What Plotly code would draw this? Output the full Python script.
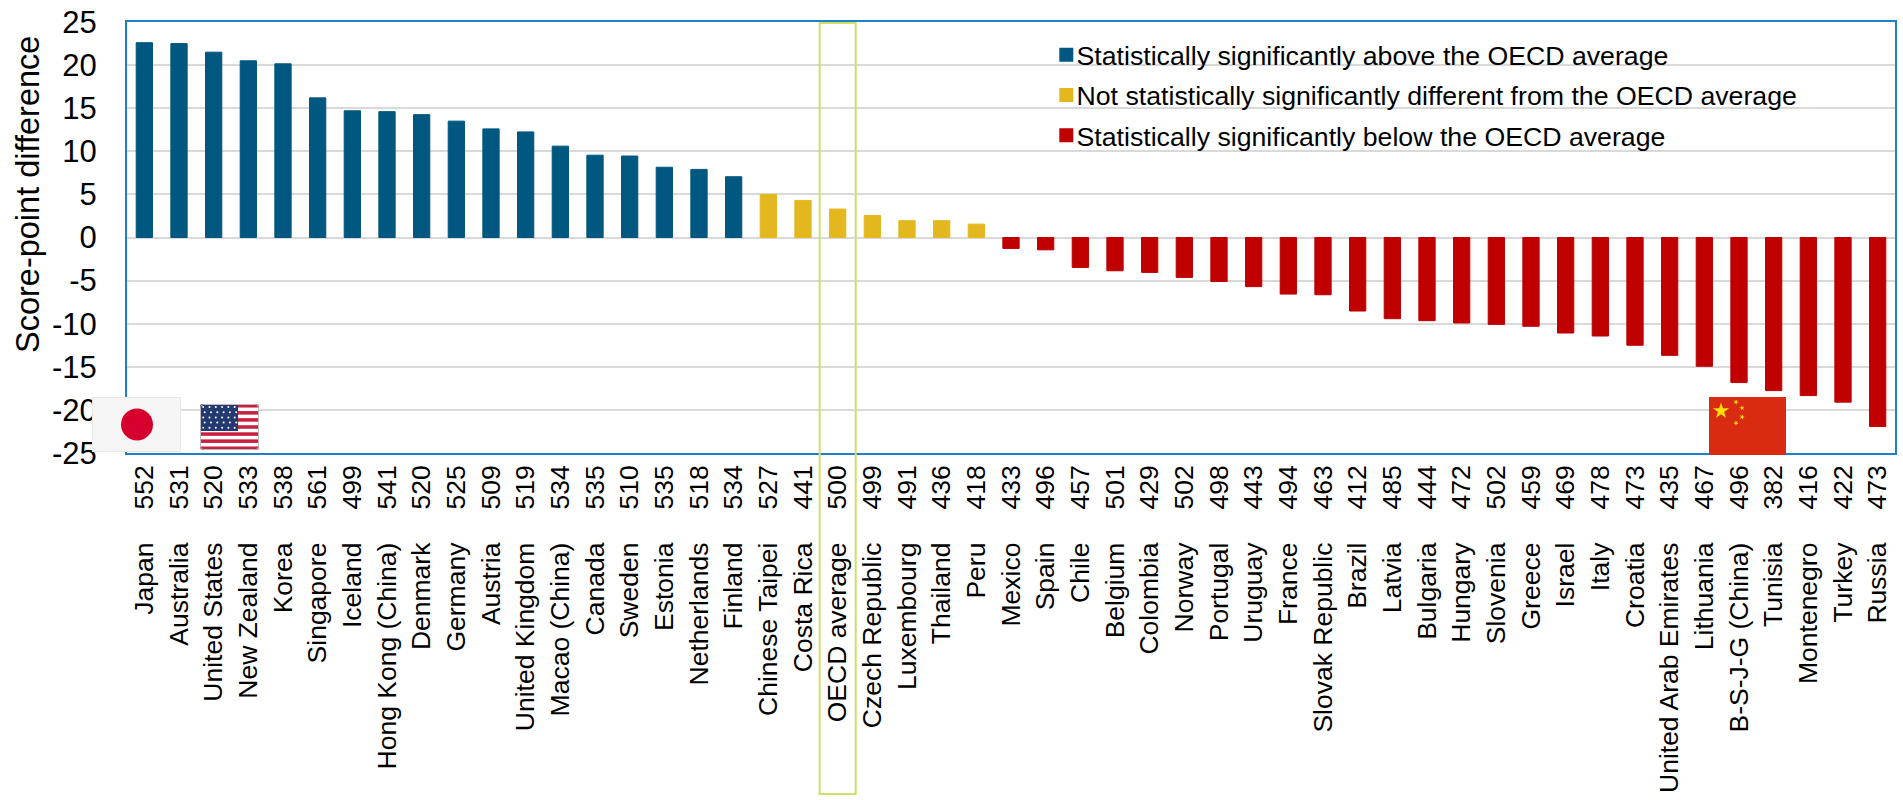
import base64
import math
import plotly.graph_objects as go

countries_above = ["Japan", "Australia", "United States", "New Zealand", "Korea", "Singapore", "Iceland",
                   "Hong Kong (China)", "Denmark", "Germany", "Austria", "United Kingdom", "Macao (China)",
                   "Canada", "Sweden", "Estonia", "Netherlands", "Finland"]
values_above = [22.6, 22.5, 21.5, 20.5, 20.15, 16.2, 14.7, 14.6, 14.25, 13.5, 12.6, 12.25, 10.6,
                9.55, 9.45, 8.15, 7.9, 7.05]
scores_above = [552, 531, 520, 533, 538, 561, 499, 541, 520, 525, 509, 519, 534, 535, 510, 535, 518, 534]

countries_same = ["Chinese Taipei", "Costa Rica", "OECD average", "Czech Republic", "Luxembourg", "Thailand", "Peru"]
values_same = [5.0, 4.3, 3.3, 2.55, 1.95, 1.95, 1.55]
scores_same = [527, 441, 500, 499, 491, 436, 418]

countries_below = ["Mexico", "Spain", "Chile", "Belgium", "Colombia", "Norway", "Portugal", "Uruguay", "France",
                   "Slovak Republic", "Brazil", "Latvia", "Bulgaria", "Hungary", "Slovenia", "Greece", "Israel",
                   "Italy", "Croatia", "United Arab Emirates", "Lithuania", "B-S-J-G (China)", "Tunisia",
                   "Montenegro", "Turkey", "Russia"]
values_below = [-1.27, -1.43, -3.47, -3.86, -4.05, -4.63, -5.1, -5.7, -6.56, -6.64, -8.53, -9.42, -9.65,
                -9.92, -10.08, -10.3, -11.08, -11.43, -12.5, -13.67, -14.94, -16.83, -17.76, -18.34, -19.1, -21.93]
scores_below = [433, 496, 457, 501, 429, 502, 498, 443, 494, 463, 412, 485, 444, 472, 502, 459, 469, 478, 473,
                435, 467, 496, 382, 416, 422, 473]

y_ticks = [25, 20, 15, 10, 5, 0, -5, -10, -15, -20, -25]
name_above = "Statistically significantly above the OECD average"
name_same = "Not statistically significantly different from the OECD average"
name_below = "Statistically significantly below the OECD average"
y_title = "Score-point difference"

all_countries = countries_above + countries_same + countries_below
all_scores = scores_above + scores_same + scores_below

W, H = 1903, 800
L, R, T, B = 127, 8, 22, 347
PW, PH = W - L - R, H - T - B
FONT = "Liberation Sans, Arial, sans-serif"
BLUE, YELLOW, RED = "#00577F", "#E3B81F", "#C00000"


def px(x):
    return (x - L) / PW


def py(y):
    return (H - B - y) / PH


def uri(svg):
    return "data:image/svg+xml;base64," + base64.b64encode(svg.encode()).decode()


def star(cx, cy, r, rot=-90):
    pts = []
    for i in range(10):
        rr = r if i % 2 == 0 else r * 0.382
        a = math.radians(rot + 36 * i)
        pts.append(f"{cx + rr * math.cos(a):.2f},{cy + rr * math.sin(a):.2f}")
    return f'<polygon points="{" ".join(pts)}" fill="#FFDE00"/>'


japan_svg = ('<svg xmlns="http://www.w3.org/2000/svg" width="89" height="55" viewBox="0 0 89 55">'
             '<rect x="0.5" y="0.5" width="88" height="54" fill="#F5F5F5" stroke="#E8E8E8"/>'
             '<circle cx="45" cy="27.5" r="16" fill="#D6002F"/></svg>')

us_parts = ['<svg xmlns="http://www.w3.org/2000/svg" width="59" height="46" viewBox="0 0 59 46">',
            '<clipPath id="c"><rect width="59" height="46" rx="3"/></clipPath><g clip-path="url(#c)">',
            '<rect width="59" height="46" fill="#FFFFFF"/>']
for i in range(0, 13, 2):
    us_parts.append(f'<rect y="{i * 46 / 13:.2f}" width="59" height="{46 / 13:.2f}" fill="#C8203F"/>')
us_parts.append('<rect width="38" height="27" fill="#24396F"/>')
for r_ in range(5):
    for c_ in range(6):
        us_parts.append(f'<circle cx="{3.2 + c_ * 6.3 + (r_ % 2) * 1.5:.1f}" cy="{3 + r_ * 5.2:.1f}" r="1" fill="#FFFFFF"/>')
us_parts.append('</g><rect x="0.5" y="0.5" width="58" height="45" rx="3" fill="none" stroke="#BBBBBB"/></svg>')
us_svg = "".join(us_parts)

china_svg = ('<svg xmlns="http://www.w3.org/2000/svg" width="77" height="58" viewBox="0 0 77 58">'
             '<rect width="77" height="58" fill="#D92A12"/>'
             + star(12, 14, 8.5) + star(27, 5, 2.8, -60) + star(33, 11, 2.8, -30)
             + star(33, 20, 2.8, 0) + star(27, 26, 2.8, 20) + '</svg>')

fig = go.Figure()
for name, xs, ys, color in [(name_above, countries_above, values_above, BLUE),
                            (name_same, countries_same, values_same, YELLOW),
                            (name_below, countries_below, values_below, RED)]:
    fig.add_trace(go.Bar(x=xs, y=ys, name=name, legendgroup=name, width=0.47,
                         marker=dict(color=color, line=dict(color=color, width=1)), hoverinfo="x+y"))

# invisible carrier so the second (score) label axis is drawn
fig.add_trace(go.Scatter(x=list(range(len(all_scores))), y=[0] * len(all_scores), xaxis="x2", mode="lines",
                         line=dict(width=0), showlegend=False, hoverinfo="skip"))

tick_font = dict(family=FONT, size=26.5, color="#000000")
fig.update_layout(
    width=W, height=H, margin=dict(l=L, r=R, t=T, b=B, pad=0, autoexpand=False),
    paper_bgcolor="#FFFFFF", plot_bgcolor="#FFFFFF", font=dict(family=FONT, color="#000000"),
    barmode="overlay", bargap=0.5,
    xaxis=dict(type="category", categoryorder="array", categoryarray=all_countries, tickmode="array",
               tickvals=all_countries, ticktext=all_countries, tickangle=-90, tickfont=tick_font,
               ticks="", ticklabelstandoff=77, showgrid=False, zeroline=False,
               showline=True, mirror=True, linecolor="#1F7FC8", linewidth=2, range=[-0.5, 50.5]),
    xaxis2=dict(overlaying="x", anchor="y", side="bottom", range=[-0.5, 50.5], tickmode="array",
                tickvals=list(range(len(all_scores))), ticktext=[str(s) for s in all_scores],
                tickangle=-90, tickfont=tick_font, ticks="", ticklabelstandoff=6,
                showgrid=False, zeroline=False, showline=False),
    yaxis=dict(range=[-25, 25], tickmode="array", tickvals=y_ticks, ticktext=[str(v) for v in y_ticks], ticks="",
               tickfont=dict(family=FONT, size=31, color="#000000"), ticklabelstandoff=22,
               showgrid=True, gridcolor="#D9D9D9", gridwidth=1.7, zeroline=True, zerolinecolor="#D9D9D9",
               zerolinewidth=1.7, showline=True, mirror=True, linecolor="#1F7FC8", linewidth=2),
    legend=dict(x=px(1036.5), xanchor="left", y=py(31), yanchor="top", bgcolor="rgba(0,0,0,0)",
                font=dict(family=FONT, size=26.7, color="#000000"), tracegroupgap=2.5,
                orientation="v", traceorder="grouped"),
    shapes=[
        dict(type="rect", layer="between", xref="paper", yref="paper", x0=px(969), x1=px(1877), y0=py(185), y1=py(26),
             fillcolor="#FFFFFF", line=dict(width=0)),
        dict(type="rect", layer="above", xref="x", yref="paper", x0=19.48, x1=20.52, y0=py(794), y1=py(23),
             fillcolor="rgba(0,0,0,0)", line=dict(color="#CFE066", width=2)),
    ],
    annotations=[
        dict(text=y_title, xref="paper", yref="paper", x=px(28), y=py(195), textangle=-90, showarrow=False,
             xanchor="center", yanchor="middle", font=dict(family=FONT, size=32.5, color="#000000")),
    ],
    images=[
        dict(source=uri(japan_svg), xref="paper", yref="paper", x=px(92), y=py(397), sizex=89 / PW, sizey=55 / PH,
             sizing="stretch", xanchor="left", yanchor="top", layer="above"),
        dict(source=uri(us_svg), xref="paper", yref="paper", x=px(200), y=py(404), sizex=59 / PW, sizey=46 / PH,
             sizing="stretch", xanchor="left", yanchor="top", layer="above"),
        dict(source=uri(china_svg), xref="paper", yref="paper", x=px(1709), y=py(397), sizex=77 / PW, sizey=58 / PH,
             sizing="stretch", xanchor="left", yanchor="top", layer="above"),
    ],
)

post = """
document.body.style.margin = '0';
document.querySelectorAll('.legendpoints').forEach(function (e) { e.setAttribute('transform', 'translate(9.8,0)'); });
document.querySelectorAll('.legendpoints path').forEach(function (e) { e.style.strokeWidth = '2px'; });
"""
fig.write_html("out.html", post_script=post, config={"displayModeBar": False})
